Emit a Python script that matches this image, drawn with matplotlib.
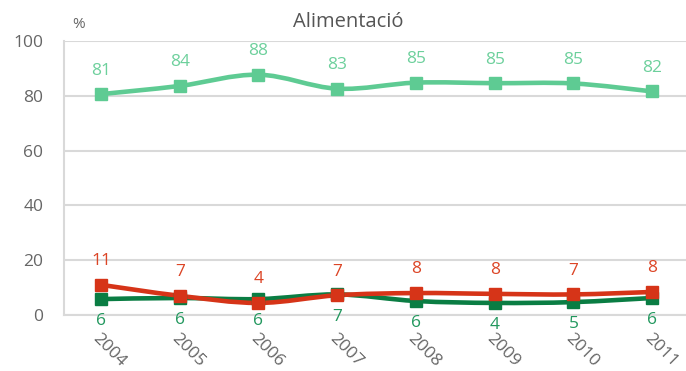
import matplotlib
matplotlib.use("Agg")
import matplotlib.pyplot as plt
from matplotlib.path import Path
from matplotlib.patches import PathPatch

# =========================
# DATA
# =========================

years = ["2004", "2005", "2006", "2007", "2008", "2009", "2010", "2011"]

light_vals = [80.6, 83.6, 87.7, 82.6, 84.8, 84.6, 84.5, 81.6]
light_labels = ["81", "84", "88", "83", "85", "85", "85", "82"]

red_vals = [11.0, 7.0, 4.4, 7.2, 8.0, 7.7, 7.5, 8.4]
red_labels = ["11", "7", "4", "7", "8", "8", "7", "8"]

dark_vals = [5.8, 6.2, 5.8, 7.5, 5.1, 4.4, 4.7, 6.2]
dark_labels = ["6", "6", "6", "7", "6", "4", "5", "6"]

yticks = [0, 20, 40, 60, 80, 100]

# =========================
# STYLE
# =========================

plt.rcParams['font.family'] = ['Open Sans', 'DejaVu Sans']

c_light = "#5ECB93"
c_red = "#D63418"
c_dark = "#0A7D43"
t_light = "#6DD09C"
t_red = "#DC4526"
t_dark = "#22985E"
grey = "#666666"
grid = "#D9D9D9"


def smooth_path(xs, ys, t=0.17):
    # cardinal-spline style bezier through the points
    verts = [(xs[0], ys[0])]
    codes = [Path.MOVETO]
    n = len(xs)
    for i in range(n - 1):
        x0, y0 = (xs[i - 1], ys[i - 1]) if i > 0 else (xs[i], ys[i])
        x1, y1 = xs[i], ys[i]
        x2, y2 = xs[i + 1], ys[i + 1]
        x3, y3 = (xs[i + 2], ys[i + 2]) if i + 2 < n else (x2, y2)
        c1 = (x1 + (x2 - x0) * t, y1 + (y2 - y0) * t)
        c2 = (x2 - (x3 - x1) * t, y2 - (y3 - y1) * t)
        verts += [c1, c2, (x2, y2)]
        codes += [Path.CURVE4, Path.CURVE4, Path.CURVE4]
    return Path(verts, codes)


# =========================
# FIGURE
# =========================

fig = plt.figure(figsize=(6.86, 3.71), dpi=100)
ax = fig.add_axes([0.0933, 0.151, 0.9067, 0.7385])

x = list(range(len(years)))

for vals, col in [(dark_vals, c_dark), (light_vals, c_light), (red_vals, c_red)]:
    ax.add_patch(PathPatch(smooth_path(x, vals), facecolor="none",
                           edgecolor=col, lw=3.3, zorder=3, capstyle="round"))
    ax.plot(x, vals, ls="none", marker="s", ms=9, color=col, zorder=4)

# value labels
for i in x:
    ax.annotate(light_labels[i], (i, light_vals[i]), xytext=(0, 17),
                textcoords="offset points", ha="center", va="center",
                color=t_light, fontsize=12.5)
    ax.annotate(red_labels[i], (i, red_vals[i]), xytext=(0, 17),
                textcoords="offset points", ha="center", va="center",
                color=t_red, fontsize=12.5)
    ax.annotate(dark_labels[i], (i, dark_vals[i]), xytext=(0, -16),
                textcoords="offset points", ha="center", va="center",
                color=t_dark, fontsize=12.5)

ax.set_xlim(-0.47, 7.43)
ax.set_ylim(0, 100)
ax.set_yticks(yticks)
ax.set_yticklabels([str(v) for v in yticks], color=grey, fontsize=12.5)
ax.set_xticks(x)
ax.set_xticklabels(years, color=grey, fontsize=12.5, rotation=-45,
                   ha="left", va="top", rotation_mode="anchor")
ax.tick_params(axis="y", length=0, pad=15)
ax.tick_params(axis="x", length=0, pad=11)

ax.grid(axis="y", color=grid, lw=1.5)
ax.set_axisbelow(True)
for s in ["top", "right"]:
    ax.spines[s].set_visible(False)
ax.spines["left"].set_color(grid)
ax.spines["left"].set_linewidth(1.5)
ax.spines["bottom"].set_color(grid)
ax.spines["bottom"].set_linewidth(1.5)

fig.text(0.507, 0.94, "Alimentació", ha="center", va="center",
         fontsize=14.5, color="#555555")
fig.text(0.115, 0.935, "%", ha="center", va="center", fontsize=11, color=grey)

fig.savefig("out.png", dpi=100)
